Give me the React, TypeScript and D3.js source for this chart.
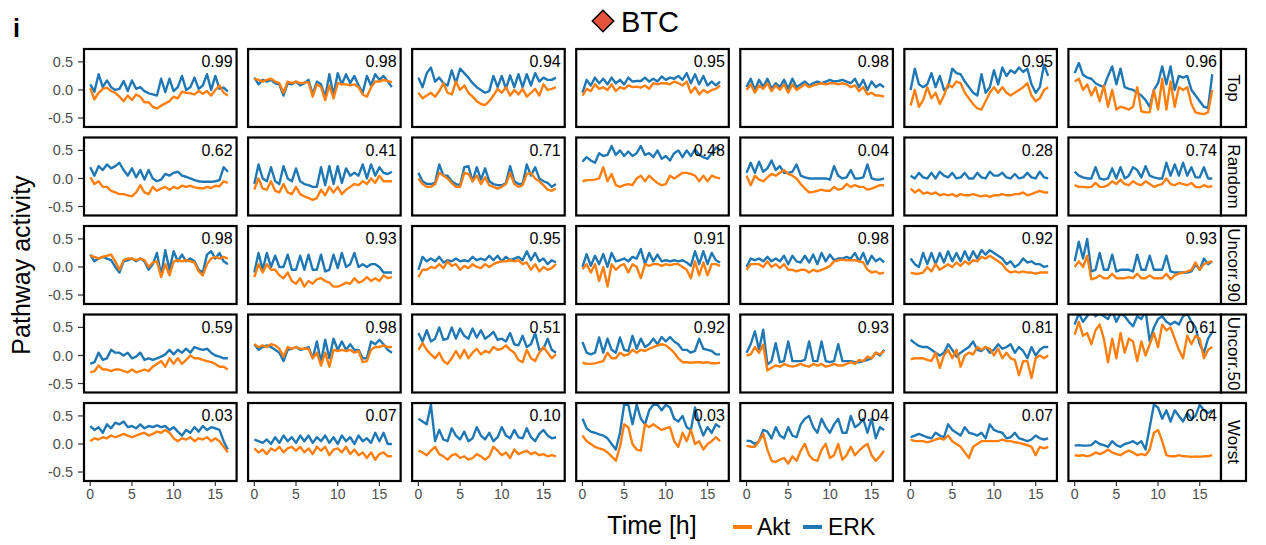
import React from 'react';
import * as d3 from 'd3';

// time axis in hours (sampling every 0.5 h)
const time = [0, 0.5, 1, 1.5, 2, 2.5, 3, 3.5, 4, 4.5, 5, 5.5, 6, 6.5, 7, 7.5, 8, 8.5, 9, 9.5,
  10, 10.5, 11, 11.5, 12, 12.5, 13, 13.5, 14, 14.5, 15, 15.5, 16, 16.5];

const rowLabels = ['Top', 'Random', 'Uncorr.90', 'Uncorr.50', 'Worst'];
const yTicks = [-0.5, 0, 0.5];
const xTicks = [0, 5, 10, 15];

const topCorr = ['0.99', '0.98', '0.94', '0.95', '0.98', '0.95', '0.96'];
const randomCorr = ['0.62', '0.41', '0.71', '0.48', '0.04', '0.28', '0.74'];
const uncorr90Corr = ['0.98', '0.93', '0.95', '0.91', '0.98', '0.92', '0.93'];
const uncorr50Corr = ['0.59', '0.98', '0.51', '0.92', '0.93', '0.81', '0.61'];
const worstCorr = ['0.03', '0.07', '0.10', '0.03', '0.04', '0.07', '0.04'];

// ---- Top ----
const topAkt = [
  [0.03, -0.17, -0.05, 0.02, 0.04, -0.02, -0.05, -0.12, -0.20, -0.10, -0.18, -0.08, -0.12, -0.22, -0.22, -0.30, -0.33, -0.28, -0.24, -0.20, -0.12, -0.15, -0.03, -0.05, -0.06, -0.08, -0.02, -0.07, -0.02, -0.10, 0.00, 0.08, -0.05, -0.10],
  [0.20, 0.18, 0.15, 0.18, 0.20, 0.15, 0.12, -0.05, 0.15, 0.12, 0.15, 0.12, 0.13, 0.14, -0.12, 0.10, 0.05, -0.18, 0.08, -0.15, 0.12, 0.10, 0.10, 0.08, 0.10, 0.05, -0.08, -0.12, 0.05, 0.15, 0.15, 0.18, 0.16, 0.14],
  [-0.05, -0.15, -0.10, -0.05, -0.12, -0.02, 0.12, -0.05, -0.08, 0.15, 0.00, 0.08, -0.05, -0.12, -0.20, -0.25, -0.27, -0.20, -0.10, 0.02, -0.05, 0.05, -0.10, 0.00, -0.08, 0.02, -0.12, -0.05, 0.02, -0.10, 0.10, 0.00, 0.02, 0.05],
  [-0.10, 0.02, -0.02, 0.10, 0.02, 0.05, 0.00, 0.10, -0.02, 0.05, 0.02, 0.08, 0.05, 0.06, 0.04, 0.08, 0.02, 0.12, 0.10, 0.12, 0.12, 0.10, 0.15, 0.12, 0.08, 0.15, -0.05, 0.05, -0.08, 0.00, -0.05, 0.00, 0.02, 0.08],
  [0.00, 0.10, -0.05, 0.08, 0.02, 0.12, -0.02, 0.08, 0.00, 0.10, -0.05, 0.10, 0.00, 0.05, 0.10, 0.05, 0.08, 0.10, 0.12, 0.10, 0.12, 0.12, 0.10, 0.12, 0.10, 0.05, 0.08, -0.02, 0.05, -0.08, -0.05, -0.10, -0.10, -0.12],
  [-0.28, 0.00, -0.30, -0.18, 0.05, -0.15, -0.05, -0.25, -0.10, 0.10, 0.05, 0.15, 0.12, -0.05, -0.15, -0.25, -0.33, -0.35, -0.20, -0.05, 0.05, -0.05, 0.05, -0.05, -0.10, -0.05, 0.00, 0.05, 0.12, -0.10, -0.20, -0.15, 0.00, 0.05],
  [0.15, 0.20, 0.00, 0.10, -0.10, 0.05, -0.20, 0.08, -0.30, 0.00, -0.35, -0.30, -0.32, -0.35, -0.30, 0.05, -0.38, -0.40, -0.40, 0.00, -0.35, 0.20, -0.35, 0.15, -0.30, 0.05, 0.00, 0.05, -0.25, -0.40, -0.42, -0.43, -0.40, 0.00],
];
const topErk = [
  [0.10, -0.03, 0.28, 0.05, 0.17, 0.05, 0.00, 0.02, 0.16, -0.02, 0.17, 0.02, 0.05, -0.02, -0.06, -0.08, -0.10, 0.20, -0.04, 0.20, -0.02, 0.05, 0.25, 0.00, 0.05, 0.22, 0.02, 0.08, 0.28, 0.00, 0.25, 0.02, 0.04, -0.03],
  [0.22, 0.10, 0.18, 0.15, 0.18, 0.12, 0.10, -0.10, 0.12, 0.10, 0.15, 0.08, 0.12, 0.18, -0.08, 0.15, 0.10, -0.12, 0.28, -0.10, 0.30, 0.10, 0.28, 0.12, 0.25, 0.08, -0.05, 0.25, 0.08, 0.28, 0.18, 0.25, 0.15, 0.05],
  [0.22, 0.05, 0.30, 0.40, 0.15, 0.22, 0.12, 0.08, 0.35, 0.12, 0.38, 0.30, 0.22, 0.12, 0.05, 0.00, -0.05, -0.02, 0.25, 0.05, 0.25, 0.02, 0.26, 0.05, 0.28, 0.05, 0.28, 0.08, 0.30, 0.15, 0.22, 0.18, 0.18, 0.22],
  [-0.05, 0.18, 0.08, 0.22, 0.12, 0.20, 0.10, 0.22, 0.12, 0.18, 0.10, 0.22, 0.15, 0.16, 0.16, 0.22, 0.15, 0.20, 0.15, 0.24, 0.18, 0.22, 0.20, 0.25, 0.18, 0.30, 0.12, 0.28, 0.10, 0.25, 0.08, 0.15, 0.08, 0.15],
  [0.05, 0.20, 0.00, 0.18, 0.05, 0.20, 0.02, 0.12, 0.05, 0.18, 0.02, 0.20, 0.05, 0.10, 0.15, 0.08, 0.12, 0.15, 0.12, 0.15, 0.18, 0.15, 0.16, 0.18, 0.15, 0.12, 0.20, 0.05, 0.18, 0.00, 0.15, 0.05, 0.10, 0.05],
  [0.00, 0.38, 0.10, 0.05, 0.10, 0.30, 0.05, 0.25, 0.00, 0.05, 0.38, 0.30, 0.28, 0.15, 0.05, -0.05, -0.10, 0.28, -0.05, 0.05, 0.35, 0.10, 0.40, 0.25, 0.35, 0.30, 0.40, 0.32, 0.38, 0.10, -0.05, 0.05, 0.45, 0.25],
  [0.30, 0.48, 0.27, 0.22, 0.20, 0.12, 0.08, 0.05, 0.25, 0.42, 0.10, 0.38, 0.05, 0.02, 0.00, -0.05, -0.10, -0.18, -0.30, 0.00, 0.12, 0.42, 0.10, 0.42, 0.00, 0.25, 0.22, 0.25, 0.00, -0.10, -0.20, -0.30, -0.32, 0.28],
];

// ---- Random ----
const randomAkt = [
  [0.02, -0.10, -0.05, -0.15, -0.15, -0.22, -0.25, -0.28, -0.28, -0.30, -0.32, -0.25, -0.12, -0.25, -0.28, -0.15, -0.22, -0.18, -0.15, -0.20, -0.15, -0.18, -0.13, -0.15, -0.13, -0.16, -0.17, -0.18, -0.15, -0.17, -0.13, -0.14, -0.05, -0.08],
  [-0.20, 0.00, -0.18, -0.20, -0.05, -0.22, -0.25, -0.10, -0.25, -0.28, -0.15, -0.28, -0.32, -0.35, -0.38, -0.35, -0.20, -0.30, -0.15, -0.25, -0.15, -0.28, -0.20, -0.15, -0.10, -0.12, -0.05, -0.10, 0.00, -0.08, 0.05, -0.05, -0.05, -0.05],
  [0.00, -0.10, -0.15, -0.15, -0.10, 0.10, 0.05, 0.00, -0.08, -0.15, -0.15, 0.10, 0.08, -0.05, 0.05, -0.10, 0.02, -0.12, -0.15, -0.18, -0.15, -0.10, 0.10, -0.10, -0.15, -0.12, 0.08, 0.10, 0.00, -0.05, -0.12, -0.20, -0.22, -0.18],
  [-0.05, -0.03, -0.03, -0.02, 0.00, 0.20, -0.05, 0.08, -0.12, -0.15, -0.12, -0.10, -0.12, 0.00, 0.05, -0.05, 0.05, -0.02, -0.08, -0.12, -0.10, 0.05, 0.00, 0.05, 0.10, 0.10, 0.08, 0.05, -0.05, 0.05, -0.05, 0.05, 0.02, 0.00],
  [0.05, -0.12, 0.05, -0.02, -0.05, 0.02, 0.08, 0.05, 0.10, 0.15, 0.08, 0.05, 0.00, -0.10, -0.18, -0.25, -0.24, -0.22, -0.20, -0.22, -0.22, -0.15, -0.20, -0.18, -0.10, -0.15, -0.12, -0.15, -0.15, -0.20, -0.18, -0.15, -0.12, -0.12],
  [-0.18, -0.25, -0.20, -0.27, -0.25, -0.28, -0.25, -0.30, -0.28, -0.30, -0.28, -0.32, -0.28, -0.30, -0.30, -0.28, -0.30, -0.32, -0.30, -0.33, -0.30, -0.30, -0.28, -0.30, -0.30, -0.28, -0.28, -0.25, -0.30, -0.28, -0.25, -0.22, -0.25, -0.25],
  [-0.12, -0.15, -0.15, -0.16, -0.15, -0.08, -0.15, -0.15, -0.12, -0.05, -0.10, -0.02, -0.10, -0.12, -0.05, -0.10, -0.12, -0.05, -0.10, -0.15, -0.12, -0.10, 0.00, -0.10, -0.12, -0.08, -0.10, -0.12, -0.08, -0.15, -0.16, -0.12, -0.15, -0.14],
];
const randomErk = [
  [0.20, 0.05, 0.22, 0.15, 0.25, 0.18, 0.22, 0.28, 0.15, 0.05, 0.18, 0.02, 0.15, -0.02, 0.15, 0.00, -0.05, -0.02, 0.08, 0.05, 0.10, 0.12, 0.05, 0.03, 0.00, -0.03, -0.05, -0.06, -0.06, -0.06, -0.05, -0.03, 0.20, 0.12],
  [-0.10, 0.25, 0.00, -0.05, 0.20, -0.05, -0.10, 0.22, 0.00, -0.05, 0.18, -0.05, -0.10, -0.12, -0.15, -0.15, 0.20, -0.12, 0.22, -0.10, 0.22, -0.08, 0.18, 0.05, 0.10, 0.05, 0.25, 0.00, 0.25, 0.05, 0.20, 0.10, 0.08, 0.12],
  [0.10, -0.05, -0.10, -0.10, -0.08, 0.25, 0.05, 0.05, -0.05, -0.10, -0.12, 0.20, 0.22, -0.05, 0.20, -0.02, 0.18, -0.05, -0.10, -0.12, -0.12, -0.08, 0.22, -0.05, -0.10, -0.10, 0.25, 0.05, 0.20, 0.00, -0.05, -0.08, -0.15, -0.10],
  [0.30, 0.38, 0.32, 0.28, 0.45, 0.40, 0.42, 0.58, 0.42, 0.50, 0.40, 0.48, 0.40, 0.45, 0.58, 0.42, 0.45, 0.38, 0.50, 0.35, 0.40, 0.32, 0.45, 0.50, 0.38, 0.50, 0.40, 0.52, 0.42, 0.38, 0.35, 0.45, 0.55, 0.50],
  [0.10, 0.28, 0.10, 0.30, 0.12, 0.18, 0.32, 0.15, 0.22, 0.10, 0.10, 0.12, 0.25, 0.05, 0.02, 0.00, 0.00, 0.00, 0.00, 0.00, -0.02, 0.22, 0.05, 0.00, 0.02, 0.15, 0.00, 0.00, 0.02, 0.25, 0.00, -0.02, -0.02, 0.00],
  [0.05, 0.00, 0.10, 0.02, 0.00, 0.10, 0.00, 0.12, 0.05, 0.02, 0.10, 0.00, 0.02, 0.10, 0.00, 0.00, 0.10, 0.02, 0.00, 0.12, 0.05, 0.05, 0.10, 0.02, 0.00, 0.08, 0.00, 0.02, 0.10, 0.02, 0.00, 0.12, 0.02, 0.00],
  [0.12, 0.05, 0.02, 0.00, 0.00, 0.20, 0.00, -0.02, 0.00, 0.18, 0.00, 0.20, 0.00, 0.05, 0.20, 0.15, 0.02, 0.22, 0.05, 0.02, 0.00, 0.00, 0.28, 0.05, 0.25, 0.05, 0.28, 0.05, 0.20, 0.02, 0.02, 0.20, 0.00, 0.00],
];

// ---- Uncorr.90 ----
const uncorr90Akt = [
  [0.20, 0.18, 0.15, 0.18, 0.20, 0.22, 0.10, -0.05, 0.12, 0.15, 0.15, 0.12, 0.15, 0.12, 0.00, 0.08, 0.10, -0.18, 0.05, -0.15, 0.10, 0.12, 0.10, 0.12, 0.10, 0.08, -0.08, -0.15, 0.05, 0.15, 0.18, 0.15, 0.18, 0.15],
  [-0.18, 0.05, -0.10, 0.05, -0.05, -0.05, -0.15, -0.20, -0.10, -0.25, -0.30, -0.20, -0.35, -0.25, -0.30, -0.22, -0.20, -0.25, -0.28, -0.35, -0.35, -0.32, -0.28, -0.30, -0.20, -0.28, -0.25, -0.18, -0.25, -0.20, -0.25, -0.15, -0.20, -0.18],
  [-0.18, -0.05, -0.05, 0.00, -0.02, 0.05, -0.02, 0.10, 0.02, 0.05, -0.05, 0.02, -0.02, 0.05, 0.00, -0.02, 0.05, 0.00, 0.05, 0.08, 0.10, 0.10, 0.12, 0.10, 0.12, 0.05, 0.08, -0.05, 0.05, -0.08, 0.00, -0.05, -0.02, 0.05],
  [-0.04, 0.05, -0.10, 0.05, -0.25, 0.00, -0.35, 0.05, -0.05, 0.02, 0.05, -0.10, 0.05, 0.00, -0.20, 0.05, 0.02, 0.05, 0.05, 0.02, 0.05, 0.03, 0.05, 0.05, 0.00, -0.05, -0.20, 0.10, -0.15, 0.08, -0.15, 0.05, 0.05, 0.02],
  [-0.05, 0.05, 0.05, 0.05, 0.00, 0.10, 0.00, 0.05, -0.02, 0.05, -0.05, -0.05, -0.08, -0.05, -0.05, -0.10, -0.05, -0.08, -0.05, -0.02, 0.02, 0.10, 0.12, 0.13, 0.12, 0.12, 0.12, 0.10, 0.08, -0.05, -0.10, -0.08, -0.12, -0.10],
  [-0.10, -0.12, -0.12, -0.10, 0.00, -0.08, 0.05, -0.05, 0.00, 0.05, 0.00, 0.08, 0.02, 0.10, 0.05, 0.12, 0.10, 0.18, 0.15, 0.20, 0.15, 0.10, 0.05, -0.05, -0.10, -0.08, -0.10, -0.08, -0.10, -0.10, -0.12, -0.10, -0.10, -0.10],
  [0.00, 0.10, 0.00, 0.20, -0.22, -0.20, -0.15, -0.20, -0.20, -0.12, -0.20, -0.20, -0.20, -0.18, -0.20, -0.12, -0.20, -0.20, -0.15, -0.20, -0.20, -0.20, -0.12, -0.22, -0.15, -0.12, -0.10, -0.08, -0.05, 0.08, -0.05, 0.05, 0.08, 0.10],
];
const uncorr90Erk = [
  [0.22, 0.10, 0.15, 0.18, 0.15, 0.12, 0.00, -0.10, 0.10, 0.12, 0.15, 0.10, 0.15, 0.10, -0.05, 0.05, 0.25, -0.15, 0.30, -0.05, 0.28, 0.10, 0.22, 0.10, 0.15, 0.10, -0.05, -0.10, 0.22, 0.28, 0.15, 0.25, 0.10, 0.05],
  [-0.10, 0.25, -0.05, 0.25, 0.00, 0.20, 0.00, 0.00, 0.22, -0.05, -0.05, 0.20, -0.05, 0.22, -0.05, -0.05, 0.22, -0.08, -0.05, 0.22, -0.02, 0.25, 0.00, 0.05, 0.25, 0.00, 0.05, 0.00, 0.05, 0.05, 0.00, -0.10, -0.10, -0.10],
  [-0.05, 0.18, 0.10, 0.15, 0.10, 0.18, 0.08, 0.12, 0.10, 0.15, 0.10, 0.12, 0.10, 0.18, 0.12, 0.15, 0.12, 0.20, 0.12, 0.20, 0.10, 0.18, 0.12, 0.15, 0.18, 0.12, 0.28, 0.12, 0.25, 0.10, 0.15, 0.05, 0.12, 0.08],
  [0.00, 0.23, 0.02, 0.20, 0.05, 0.23, 0.00, 0.25, 0.10, 0.12, 0.15, 0.10, 0.18, 0.15, 0.32, 0.05, 0.25, 0.10, 0.22, 0.10, 0.12, 0.10, 0.12, 0.10, 0.12, 0.08, 0.02, 0.28, 0.05, 0.28, 0.05, 0.25, 0.12, 0.08],
  [0.00, 0.15, 0.12, 0.15, 0.10, 0.18, 0.10, 0.15, 0.10, 0.20, 0.05, 0.20, 0.10, 0.08, 0.20, 0.08, 0.22, 0.05, 0.25, 0.10, 0.22, 0.12, 0.15, 0.15, 0.18, 0.15, 0.25, 0.10, 0.25, 0.05, 0.20, 0.10, 0.15, 0.08],
  [0.15, 0.05, 0.00, 0.25, 0.05, 0.25, 0.05, 0.25, 0.08, 0.28, 0.10, 0.25, 0.10, 0.28, 0.12, 0.28, 0.15, 0.30, 0.22, 0.30, 0.25, 0.20, 0.15, 0.05, 0.10, 0.00, 0.05, 0.15, 0.08, 0.10, 0.05, 0.05, 0.00, 0.02],
  [0.10, 0.45, 0.15, 0.50, -0.08, -0.05, 0.25, -0.05, -0.05, 0.22, -0.08, -0.05, -0.05, -0.05, -0.08, 0.22, -0.05, -0.05, 0.20, -0.05, -0.05, -0.05, 0.20, -0.08, -0.10, -0.10, -0.10, -0.10, -0.08, 0.05, -0.05, 0.15, 0.05, 0.10],
];

// ---- Uncorr.50 ----
const uncorr50Akt = [
  [-0.30, -0.28, -0.18, -0.25, -0.25, -0.28, -0.25, -0.25, -0.28, -0.30, -0.25, -0.30, -0.28, -0.25, -0.28, -0.20, -0.15, -0.10, -0.20, -0.05, -0.15, -0.05, -0.15, -0.08, 0.00, -0.05, -0.05, -0.08, -0.10, -0.12, -0.15, -0.20, -0.20, -0.25],
  [0.20, 0.15, 0.18, 0.15, 0.20, 0.18, 0.12, -0.02, 0.15, 0.12, 0.15, 0.12, 0.12, 0.12, -0.05, 0.05, -0.18, 0.05, -0.20, 0.10, 0.08, 0.10, 0.08, 0.10, 0.05, 0.08, -0.12, -0.10, 0.10, 0.15, 0.15, 0.18, 0.15, 0.15],
  [0.10, 0.22, 0.10, 0.02, -0.05, 0.05, -0.10, -0.15, -0.05, 0.08, -0.05, 0.10, -0.05, 0.05, 0.12, 0.02, 0.08, 0.05, 0.15, 0.10, 0.12, 0.18, 0.10, 0.05, -0.08, -0.12, 0.10, -0.05, -0.10, 0.05, 0.15, 0.05, -0.05, 0.02],
  [-0.13, -0.15, -0.15, -0.14, -0.12, -0.10, 0.05, -0.05, -0.05, 0.05, 0.00, 0.02, 0.10, 0.05, 0.10, 0.08, 0.12, 0.15, 0.18, 0.20, 0.18, 0.12, 0.05, -0.05, -0.12, -0.12, -0.13, -0.12, -0.12, -0.13, -0.12, -0.14, -0.14, -0.13],
  [0.00, 0.02, 0.15, 0.05, 0.19, -0.27, -0.22, -0.18, -0.20, -0.15, -0.18, -0.20, -0.18, -0.15, -0.18, -0.20, -0.15, -0.18, -0.15, -0.20, -0.18, -0.15, -0.18, -0.18, -0.15, -0.12, -0.15, -0.08, -0.10, -0.02, -0.05, 0.05, 0.02, 0.08],
  [-0.07, -0.05, -0.05, -0.05, -0.08, -0.10, 0.05, -0.22, 0.00, 0.10, -0.05, 0.10, -0.20, 0.00, 0.05, 0.02, 0.15, 0.10, 0.15, 0.12, 0.00, 0.12, -0.05, 0.05, -0.05, -0.08, -0.35, -0.10, -0.10, -0.40, -0.05, 0.00, -0.05, 0.00],
  [0.37, 0.60, 0.35, 0.40, 0.20, 0.45, 0.55, 0.30, -0.12, 0.30, -0.05, 0.40, 0.05, 0.30, 0.25, -0.10, 0.25, 0.00, 0.20, 0.40, 0.15, 0.55, 0.45, 0.50, 0.30, 0.10, -0.05, 0.35, 0.20, 0.35, 0.30, -0.05, 0.10, 0.15],
];
const uncorr50Erk = [
  [-0.15, -0.12, 0.05, -0.08, -0.05, 0.10, 0.05, 0.05, 0.00, 0.05, -0.05, -0.02, 0.05, -0.08, -0.05, -0.08, -0.05, -0.02, 0.02, 0.10, 0.02, 0.10, 0.05, 0.12, 0.05, 0.15, 0.12, 0.10, 0.12, 0.05, 0.00, -0.02, -0.05, -0.05],
  [0.20, 0.10, 0.15, 0.18, 0.15, 0.10, 0.05, -0.10, 0.10, 0.12, 0.15, 0.10, 0.12, 0.15, -0.05, 0.25, -0.12, 0.28, -0.05, 0.30, 0.10, 0.25, 0.10, 0.20, 0.10, 0.10, -0.05, -0.05, 0.25, 0.20, 0.28, 0.20, 0.10, 0.05],
  [0.40, 0.25, 0.45, 0.25, 0.30, 0.50, 0.28, 0.30, 0.50, 0.30, 0.48, 0.35, 0.30, 0.48, 0.32, 0.45, 0.30, 0.35, 0.42, 0.28, 0.30, 0.25, 0.40, 0.20, 0.18, 0.35, 0.15, 0.20, 0.40, 0.10, 0.12, 0.30, 0.10, 0.05],
  [0.24, 0.05, 0.02, 0.05, 0.32, 0.05, 0.30, 0.10, 0.05, 0.32, 0.10, 0.08, 0.35, 0.12, 0.30, 0.15, 0.20, 0.30, 0.20, 0.33, 0.25, 0.33, 0.25, 0.20, 0.10, 0.10, 0.05, 0.08, 0.30, 0.12, 0.10, 0.08, 0.02, 0.02],
  [0.05, 0.20, 0.43, 0.10, 0.46, -0.16, -0.10, 0.22, -0.12, -0.10, 0.25, -0.10, -0.10, -0.10, -0.08, 0.25, -0.10, -0.10, 0.25, -0.10, -0.12, -0.10, 0.20, -0.10, -0.10, -0.10, -0.12, -0.12, -0.10, -0.08, -0.05, 0.05, 0.00, 0.10],
  [0.28, 0.22, 0.17, 0.15, 0.15, 0.10, 0.05, 0.00, 0.05, 0.20, 0.10, -0.02, 0.05, 0.10, 0.15, 0.25, 0.10, 0.08, 0.15, 0.05, 0.10, 0.20, 0.12, 0.15, 0.20, 0.05, 0.15, 0.08, -0.05, 0.15, 0.00, 0.10, 0.15, 0.15],
  [0.55, 0.75, 0.60, 0.70, 0.80, 0.70, 0.75, 0.70, 0.65, 0.80, 0.60, 0.75, 0.70, 0.60, 0.52, 0.70, 0.65, 0.80, 0.25, 0.50, 0.65, 0.70, 0.60, 0.55, 0.60, 0.55, 0.70, 0.75, 0.60, 0.50, 0.20, 0.05, 0.30, 0.42],
];

// ---- Worst ----
const worstAkt = [
  [0.05, 0.10, 0.08, 0.12, 0.10, 0.15, 0.12, 0.15, 0.18, 0.15, 0.12, 0.15, 0.18, 0.20, 0.15, 0.18, 0.22, 0.20, 0.25, 0.20, 0.10, 0.05, 0.10, 0.08, 0.12, 0.05, 0.10, 0.08, 0.12, 0.05, 0.10, 0.05, -0.05, -0.15],
  [-0.08, -0.15, -0.10, -0.18, -0.08, -0.12, -0.05, -0.15, -0.08, -0.05, -0.12, -0.05, -0.15, -0.08, -0.18, -0.05, -0.12, -0.05, -0.20, -0.10, -0.08, -0.15, -0.05, -0.18, -0.10, -0.20, -0.15, -0.25, -0.15, -0.28, -0.18, -0.15, -0.22, -0.22],
  [-0.12, -0.15, -0.20, -0.12, -0.05, -0.18, -0.22, -0.28, -0.20, -0.18, -0.25, -0.22, -0.28, -0.25, -0.18, -0.22, -0.28, -0.22, -0.05, -0.12, -0.20, -0.15, -0.25, -0.10, -0.18, -0.15, -0.12, -0.18, -0.15, -0.20, -0.18, -0.22, -0.20, -0.22],
  [0.15, 0.05, 0.00, -0.05, -0.08, -0.10, -0.15, -0.22, -0.30, -0.05, 0.35, 0.30, 0.00, -0.10, -0.12, 0.35, 0.30, 0.35, 0.30, 0.25, 0.28, 0.30, 0.05, -0.05, 0.20, 0.05, 0.25, 0.00, 0.05, -0.10, 0.00, 0.05, 0.12, 0.05],
  [-0.03, -0.05, -0.05, 0.05, 0.18, -0.10, -0.30, -0.32, -0.28, -0.25, -0.35, -0.22, -0.30, -0.12, 0.00, -0.20, -0.28, -0.30, -0.10, 0.00, -0.25, -0.20, 0.00, -0.28, -0.20, -0.05, -0.20, -0.12, -0.05, 0.00, -0.20, -0.30, -0.22, -0.12],
  [0.08, 0.05, 0.05, 0.05, 0.03, 0.05, 0.08, 0.10, 0.08, 0.15, 0.05, 0.00, -0.05, -0.15, -0.25, -0.05, 0.00, 0.05, 0.05, 0.05, 0.05, 0.05, 0.08, 0.05, 0.05, 0.03, 0.02, 0.00, -0.02, -0.05, -0.20, -0.05, -0.08, -0.05],
  [-0.20, -0.21, -0.20, -0.22, -0.20, -0.15, -0.18, -0.15, -0.10, -0.15, -0.18, -0.20, -0.15, -0.12, -0.15, -0.20, -0.18, -0.20, -0.10, 0.20, 0.25, 0.05, -0.20, -0.22, -0.22, -0.20, -0.22, -0.22, -0.23, -0.22, -0.23, -0.22, -0.22, -0.20],
];
const worstErk = [
  [0.32, 0.25, 0.30, 0.20, 0.35, 0.28, 0.38, 0.35, 0.40, 0.30, 0.32, 0.28, 0.35, 0.28, 0.32, 0.30, 0.33, 0.30, 0.32, 0.25, 0.30, 0.22, 0.15, 0.25, 0.20, 0.30, 0.22, 0.32, 0.25, 0.30, 0.28, 0.25, 0.05, -0.10],
  [0.08, 0.05, 0.02, 0.08, 0.00, 0.12, 0.02, 0.15, 0.05, 0.12, 0.02, 0.15, 0.05, 0.15, 0.02, 0.12, 0.05, 0.15, 0.02, 0.12, 0.00, 0.15, 0.05, 0.12, 0.00, 0.15, 0.05, 0.10, 0.02, 0.20, 0.05, 0.20, 0.00, 0.00],
  [0.45, 0.40, 0.35, 0.70, 0.05, 0.25, 0.08, 0.05, 0.28, 0.15, 0.08, 0.22, 0.05, 0.10, 0.30, 0.15, 0.08, 0.20, 0.05, 0.12, 0.30, 0.15, 0.10, 0.25, 0.12, 0.10, 0.28, 0.12, 0.05, 0.18, 0.25, 0.15, 0.10, 0.12],
  [0.45, 0.28, 0.22, 0.20, 0.17, 0.15, 0.10, 0.00, -0.10, 0.20, 0.70, 0.70, 0.35, 0.70, 0.45, 0.35, 0.60, 0.70, 0.70, 0.60, 0.70, 0.65, 0.45, 0.40, 0.50, 0.30, 0.25, 0.65, 0.35, 0.15, 0.30, 0.20, 0.35, 0.30],
  [0.06, 0.05, 0.00, 0.05, 0.25, 0.22, 0.10, 0.30, 0.15, 0.10, 0.30, 0.15, 0.12, 0.35, 0.45, 0.50, 0.30, 0.20, 0.45, 0.30, 0.20, 0.35, 0.45, 0.20, 0.20, 0.50, 0.30, 0.35, 0.45, 0.20, 0.45, 0.10, 0.30, 0.25],
  [0.12, 0.15, 0.18, 0.15, 0.12, 0.10, 0.20, 0.15, 0.12, 0.35, 0.25, 0.20, 0.15, 0.30, 0.20, 0.18, 0.15, 0.20, 0.10, 0.35, 0.25, 0.22, 0.20, 0.10, 0.12, 0.20, 0.10, 0.08, 0.05, 0.08, 0.15, 0.10, 0.08, 0.10],
  [-0.03, -0.02, -0.03, -0.03, -0.02, 0.05, 0.00, -0.02, -0.05, 0.05, -0.02, -0.05, 0.00, 0.02, 0.05, 0.00, 0.05, -0.10, 0.30, 0.70, 0.65, 0.45, 0.60, 0.40, 0.60, 0.50, 0.40, 0.55, 0.45, 0.50, 0.70, 0.60, 0.55, 0.60],
];

const rows = [
  { label: rowLabels[0], corr: topCorr, akt: topAkt, erk: topErk },
  { label: rowLabels[1], corr: randomCorr, akt: randomAkt, erk: randomErk },
  { label: rowLabels[2], corr: uncorr90Corr, akt: uncorr90Akt, erk: uncorr90Erk },
  { label: rowLabels[3], corr: uncorr50Corr, akt: uncorr50Akt, erk: uncorr50Erk },
  { label: rowLabels[4], corr: worstCorr, akt: worstAkt, erk: worstErk },
];

const width = 1266;
const height = 545;
const aktColor = '#ff7f0e';
const erkColor = '#1f77b4';
const font = '"Liberation Sans", Arial, Helvetica, sans-serif';

const colScale = d3.scaleBand<number>().domain(d3.range(7)).range([84, 1221]).paddingInner(0.07);
const rowScale = d3.scaleBand<number>().domain(d3.range(5)).range([49, 481]).paddingInner(0.119);
const pw = colScale.bandwidth();
const ph = rowScale.bandwidth();
const stripW = 25;

const x = d3.scaleLinear().domain([-0.75, 17.55]).range([0, pw]);
const y = d3.scaleLinear().domain([-0.66, 0.73]).range([ph, 0]);

const line = d3.line<number>()
  .defined((_, i) => i < time.length)
  .x((_, i) => x(time[i]))
  .y((d) => y(d));

export default function App() {
  const bottom = (rowScale(4) as number) + ph;
  return (
    <svg width={width} height={height} viewBox={`0 0 ${width} ${height}`}
      style={{ position: 'absolute', left: 0, top: 0, background: '#fff', fontFamily: font }}>
      <defs>
        <clipPath id="panel-clip">
          <rect x={0} y={0} width={pw} height={ph} />
        </clipPath>
      </defs>

      {/* panel label and title */}
      <text x={13} y={37} fontSize={25} fontWeight="bold">i</text>
      <path d={d3.symbol(d3.symbolSquare, 230)() as string}
        transform="translate(603,21) rotate(45)" fill="#e5533d" stroke="#000" strokeWidth={1.5} />
      <text x={621} y={32} fontSize={29}>BTC</text>

      {rows.map((row, r) => {
        const top = rowScale(r) as number;
        return (
          <g key={row.label}>
            {/* y axis */}
            {yTicks.map((t) => (
              <g key={t} transform={`translate(${colScale(0)}, ${top + y(t)})`}>
                <line x1={-6} x2={0} stroke="#333" strokeWidth={1.2} />
                <text x={-11} dy="0.35em" textAnchor="end" fontSize={14.5} fill="#4d4d4d">
                  {t.toFixed(1)}
                </text>
              </g>
            ))}
            {row.akt.map((akt, c) => {
              const left = colScale(c) as number;
              return (
                <g key={c} transform={`translate(${left}, ${top})`}>
                  <rect width={pw} height={ph} fill="#fff" />
                  <g clipPath="url(#panel-clip)">
                    <path d={line(row.erk[c]) as string} fill="none" stroke={erkColor} strokeWidth={2.4} strokeLinejoin="round" />
                    <path d={line(akt) as string} fill="none" stroke={aktColor} strokeWidth={2.4} strokeLinejoin="round" />
                  </g>
                  <text x={pw - 4} y={18} textAnchor="end" fontSize={16}>{row.corr[c]}</text>
                  <rect width={pw} height={ph} fill="none" stroke="#000" strokeWidth={2.2} />
                </g>
              );
            })}
            {/* strip */}
            <g transform={`translate(${(colScale(6) as number) + pw}, ${top})`}>
              <rect width={stripW} height={ph} fill="#fff" stroke="#000" strokeWidth={2.2} />
              <text transform={`translate(${stripW / 2}, ${ph / 2}) rotate(90)`}
                textAnchor="middle" dy="0.35em" fontSize={17}>{row.label}</text>
            </g>
          </g>
        );
      })}

      {/* x axes */}
      {d3.range(7).map((c) => (
        <g key={c} transform={`translate(${colScale(c)}, ${bottom})`}>
          {xTicks.map((t) => (
            <g key={t} transform={`translate(${x(t)}, 0)`}>
              <line y1={0} y2={5} stroke="#333" strokeWidth={1.2} />
              <text y={18} textAnchor="middle" fontSize={14} fill="#4d4d4d">{t}</text>
            </g>
          ))}
        </g>
      ))}

      {/* axis titles */}
      <text transform={`translate(30, ${(49 + bottom) / 2}) rotate(-90)`} textAnchor="middle" fontSize={25}>
        Pathway activity
      </text>
      <text x={652} y={534} textAnchor="middle" fontSize={25}>Time [h]</text>

      {/* legend */}
      <line x1={733} x2={752} y1={527} y2={527} stroke={aktColor} strokeWidth={4} />
      <text x={757} y={535} fontSize={23}>Akt</text>
      <line x1={803} x2={822} y1={527} y2={527} stroke={erkColor} strokeWidth={4} />
      <text x={828} y={535} fontSize={23}>ERK</text>
    </svg>
  );
}
